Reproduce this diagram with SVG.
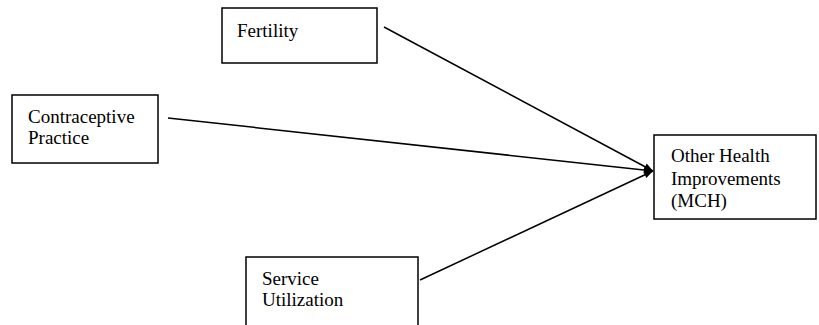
<svg xmlns="http://www.w3.org/2000/svg" width="819" height="325" viewBox="0 0 819 325">
  <style>
    .box { fill: #fff; stroke: #000; stroke-width: 1.5; }
    .lbl { font-family: "Liberation Serif", "DejaVu Serif", serif; font-size: 19px; fill: #000; }
    .link { stroke: #000; stroke-width: 1.5; fill: none; }
  </style>
  <defs>
    <marker id="arrow" viewBox="0 0 10 10" refX="10" refY="5" markerWidth="11" markerHeight="9" orient="auto" markerUnits="userSpaceOnUse">
      <path d="M0,1 L10,5 L0,9 z" fill="#000"/>
    </marker>
  </defs>
  <rect width="819" height="325" fill="#fff"/>

  <g id="connectors">
    <line class="link" x1="384" y1="27" x2="653" y2="171" marker-end="url(#arrow)"/>
    <line class="link" x1="168" y1="118" x2="653" y2="171" marker-end="url(#arrow)"/>
    <line class="link" x1="420" y1="280" x2="653" y2="171" marker-end="url(#arrow)"/>
  </g>

  <g id="fertility">
    <rect class="box" x="222" y="8" width="155" height="55"/>
    <text class="lbl" x="237" y="37">Fertility</text>
  </g>

  <g id="contraceptive-practice">
    <rect class="box" x="12" y="95" width="146" height="68"/>
    <text class="lbl" x="28" y="123">Contraceptive</text>
    <text class="lbl" x="28" y="144">Practice</text>
  </g>

  <g id="service-utilization">
    <rect class="box" x="246" y="257" width="172" height="80"/>
    <text class="lbl" x="262" y="285">Service</text>
    <text class="lbl" x="262" y="306">Utilization</text>
  </g>

  <g id="other-health">
    <rect class="box" x="654" y="135" width="162" height="84"/>
    <text class="lbl" x="671" y="162">Other Health</text>
    <text class="lbl" x="671" y="185">Improvements</text>
    <text class="lbl" x="671" y="207">(MCH)</text>
  </g>
</svg>
